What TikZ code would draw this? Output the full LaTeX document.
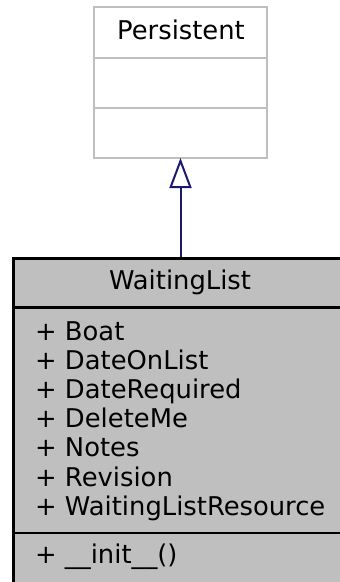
\documentclass[tikz,border=0pt]{standalone}
\usepackage{fontspec}
\setmainfont{DejaVu Sans}
\usetikzlibrary{arrows.meta}
\definecolor{boxgray}{HTML}{BFBFBF}
\definecolor{edgeblue}{HTML}{191970}
\tikzset{
  pbox/.style={draw=boxgray, line width=2pt, fill=white, inner sep=0pt},
  wbox/.style={draw=black, line width=2.6pt, fill=boxgray, inner sep=0pt},
  label/.style={inner sep=0pt, font=\fontsize{25.8}{29.2}\selectfont},
  inherit/.style={draw=edgeblue, line width=2pt, -{Triangle[open, length=30pt, width=22pt, line width=2pt, fill=white]}}
}
\begin{document}
\begin{tikzpicture}[x=1pt, y=-1pt]
\useasboundingbox (0,0) rectangle (340,582);
\clip (0,0) rectangle (340,582);
% Persistent
\node[pbox, minimum width=173pt, minimum height=151pt] (pers) at (180.5,82.5) {};
\draw[boxgray, line width=2pt] (94,57.5) coordinate (p1) -- (267,57.5) coordinate (p2);
\draw[boxgray, line width=2pt] (94,108) coordinate (p3) -- (267,108) coordinate (p4);
\node[label, anchor=base] (ptitle) at (181,39) {Persistent};
% WaitingList
\node[wbox, minimum width=337pt, minimum height=360pt, anchor=north west] (wl) at (12,257) {};
\draw[black, line width=2.6pt] (12,307.5) coordinate (w1) -- (360,307.5) coordinate (w2);
\draw[black, line width=2.6pt] (12,533) coordinate (w3) -- (360,533) coordinate (w4);
\node[label, anchor=base] (wtitle) at (180,289) {WaitingList};
\node[label, anchor=base west] (a1) at (35,340) {+ Boat};
\node[label, anchor=base west] (a2) at (35,369.2) {+ DateOnList};
\node[label, anchor=base west] (a3) at (35,398.4) {+ DateRequired};
\node[label, anchor=base west] (a4) at (35,427.6) {+ DeleteMe};
\node[label, anchor=base west] (a5) at (35,456.8) {+ Notes};
\node[label, anchor=base west] (a6) at (35,486) {+ Revision};
\node[label, anchor=base west] (a7) at (35,515.2) {+ WaitingListResource};
\node[label, anchor=base west] (m1) at (35,563) {+ \_\_init\_\_()};
% inheritance
\draw[inherit] (wl.north -| pers.south) -- ([yshift=1pt]pers.south);
\end{tikzpicture}
\end{document}
